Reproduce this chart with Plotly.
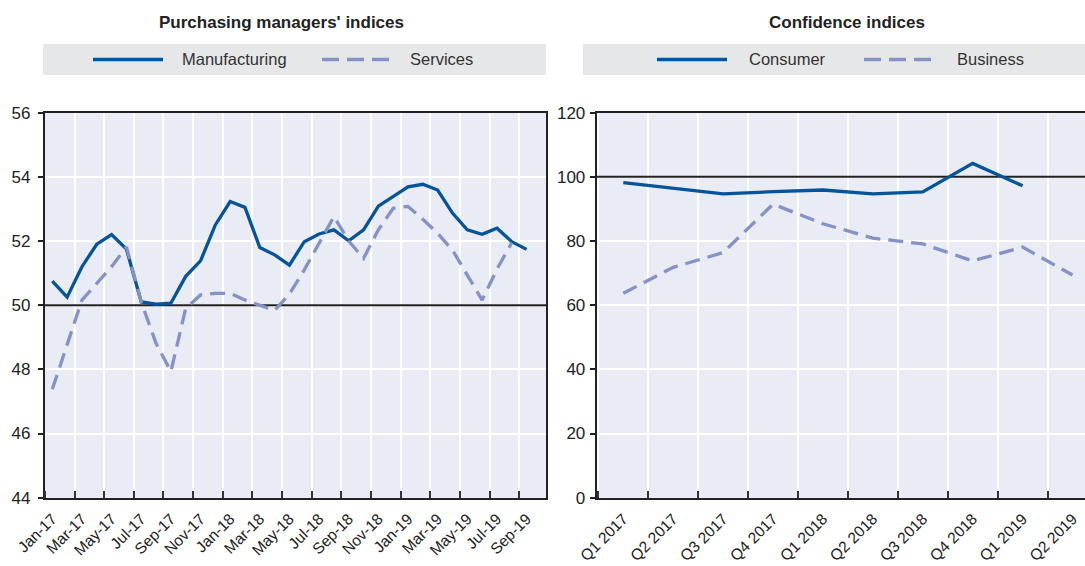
import plotly.graph_objects as go

# ---------------- data ----------------
months = ["Jan-17", "Feb-17", "Mar-17", "Apr-17", "May-17", "Jun-17", "Jul-17", "Aug-17",
          "Sep-17", "Oct-17", "Nov-17", "Dec-17", "Jan-18", "Feb-18", "Mar-18", "Apr-18",
          "May-18", "Jun-18", "Jul-18", "Aug-18", "Sep-18", "Oct-18", "Nov-18", "Dec-18",
          "Jan-19", "Feb-19", "Mar-19", "Apr-19", "May-19", "Jun-19", "Jul-19", "Aug-19",
          "Sep-19"]
manufacturing = [50.75, 50.25, 51.2, 51.9, 52.2, 51.75, 50.1, 50.03, 50.06, 50.9, 51.38,
                 52.5, 53.23, 53.05, 51.8, 51.57, 51.25, 51.98, 52.22, 52.35, 52.01, 52.35,
                 53.09, 53.38, 53.69, 53.77, 53.59, 52.87, 52.35, 52.21, 52.4, 51.98, 51.74]
services = [47.38, 48.77, 50.16, 50.68, 51.2, 51.82, 50.1, 48.81, 47.93, 49.9, 50.32,
            50.37, 50.37, 50.16, 50.0, 49.84, 50.35, 51.1, 51.93, 52.76, 52.0, 51.46,
            52.35, 53.02, 53.08, 52.68, 52.24, 51.72, 50.94, 50.16, 51.12, 51.95, None]

quarters = ["Q1 2017", "Q2 2017", "Q3 2017", "Q4 2017", "Q1 2018", "Q2 2018",
            "Q3 2018", "Q4 2018", "Q1 2019", "Q2 2019"]
consumer = [98.2, 96.45, 94.7, 95.4, 95.9, 94.7, 95.3, 104.2, 97.2, None]
business = [63.7, 71.8, 76.4, 91.5, 85.4, 80.9, 79.1, 73.8, 78.1, 69.4]

# ---------------- style ----------------
W, H = 1085, 566
BLUE = "#03549A"
LIGHT = "#8592C8"
BG = "#E9EBF5"
LEGBG = "#E6E7E8"
AXC = "#222222"
FONT = "Liberation Sans, Arial, sans-serif"

X1_RANGE = [-0.5, 33.31]
X2_RANGE = [-0.533, 9.25]


def px(x):
    return x / W


def py(y):
    return 1 - y / H


ydom = [py(497.7), py(112.7)]

fig = go.Figure()
fig.add_trace(go.Scatter(x=list(range(len(months))), y=manufacturing, mode="lines",
                         line=dict(color=BLUE, width=3.3), xaxis="x", yaxis="y",
                         name="Manufacturing", showlegend=False))
fig.add_trace(go.Scatter(x=list(range(len(months))), y=services, mode="lines",
                         line=dict(color=LIGHT, width=3.3, dash="15px,8px"),
                         xaxis="x", yaxis="y", name="Services", showlegend=False))
fig.add_trace(go.Scatter(x=list(range(len(quarters))), y=consumer, mode="lines",
                         line=dict(color=BLUE, width=3.3), xaxis="x2", yaxis="y2",
                         name="Consumer", showlegend=False))
fig.add_trace(go.Scatter(x=list(range(len(quarters))), y=business, mode="lines",
                         line=dict(color=LIGHT, width=3.3, dash="15px,8px"),
                         xaxis="x2", yaxis="y2", name="Business", showlegend=False))

common_x = dict(showline=True, linecolor=AXC, linewidth=2, mirror=True, ticks="",
                showgrid=False, zeroline=False, tickangle=-45, automargin=False,
                ticklabelstandoff=4,
                tickfont=dict(family=FONT, size=15.5, color="#222"))
common_y = dict(showline=True, linecolor=AXC, linewidth=2, ticks="outside", ticklen=5,
                tickcolor=AXC, tickwidth=1.5, showgrid=True, gridcolor="white",
                gridwidth=1.5, zeroline=False, automargin=False,
                tickfont=dict(family=FONT, size=17, color="#222"))

fig.update_layout(
    width=W, height=H, template="none",
    margin=dict(l=0, r=0, t=0, b=0, autoexpand=False),
    paper_bgcolor="white", plot_bgcolor=BG,
    font=dict(family=FONT, color="#222"),
    showlegend=False,
    xaxis=dict(domain=[px(44.9), px(546)], range=X1_RANGE, anchor="y",
               tickmode="array", tickvals=list(range(0, len(months), 2)),
               ticktext=months[::2],
               minor=dict(tickmode="linear", tick0=1.5, dtick=2, ticks="inside",
                          ticklen=7, tickcolor="#333", tickwidth=1.5,
                          showgrid=True, gridcolor="white", gridwidth=1.5),
               **common_x),
    yaxis=dict(domain=ydom, range=[44, 56], tick0=44, dtick=2, anchor="x",
               mirror=True, ticklabelstandoff=4, **common_y),
    xaxis2=dict(domain=[px(596.7), 1.0], range=X2_RANGE, anchor="y2",
                tickmode="array", tickvals=list(range(len(quarters))),
                ticktext=quarters,
                minor=dict(tickmode="linear", tick0=0.5, dtick=1, ticks="inside",
                           ticklen=7, tickcolor="#333", tickwidth=1.5,
                           showgrid=True, gridcolor="white", gridwidth=1.5),
                **common_x),
    yaxis2=dict(domain=ydom, range=[0, 120], tick0=0, dtick=20, anchor="x2",
                mirror=False, ticklabelstandoff=1, **common_y),
)

shapes = [
    dict(type="line", xref="x", yref="y", x0=X1_RANGE[0], x1=X1_RANGE[1], y0=50, y1=50,
         layer="between", line=dict(color=AXC, width=2)),
    dict(type="line", xref="x2", yref="y2", x0=X2_RANGE[0], x1=X2_RANGE[1], y0=100,
         y1=100, layer="between", line=dict(color=AXC, width=2)),
    # legend panels
    dict(type="rect", xref="paper", yref="paper", x0=px(43), x1=px(546), y0=py(75),
         y1=py(44), fillcolor=LEGBG, line=dict(width=0), layer="below"),
    dict(type="rect", xref="paper", yref="paper", x0=px(583), x1=1.0, y0=py(75),
         y1=py(44), fillcolor=LEGBG, line=dict(width=0), layer="below"),
    # legend keys
    dict(type="line", xref="paper", yref="paper", x0=px(93), x1=px(163), y0=py(59.5),
         y1=py(59.5), line=dict(color=BLUE, width=3.3)),
    dict(type="line", xref="paper", yref="paper", x0=px(322), x1=px(389), y0=py(59.5),
         y1=py(59.5), line=dict(color=LIGHT, width=3.3, dash="17px,8px")),
    dict(type="line", xref="paper", yref="paper", x0=px(657), x1=px(727), y0=py(59.5),
         y1=py(59.5), line=dict(color=BLUE, width=3.3)),
    dict(type="line", xref="paper", yref="paper", x0=px(864), x1=px(931), y0=py(59.5),
         y1=py(59.5), line=dict(color=LIGHT, width=3.3, dash="17px,8px")),
]
fig.update_layout(shapes=shapes)

ann = []
ann.append(dict(text="<b>Purchasing managers' indices</b>", x=px(281), y=py(22),
                xref="paper", yref="paper", xanchor="center", yanchor="middle",
                showarrow=False, font=dict(family=FONT, size=17, color="#222")))
ann.append(dict(text="<b>Confidence indices</b>", x=px(847), y=py(22),
                xref="paper", yref="paper", xanchor="center", yanchor="middle",
                showarrow=False, font=dict(family=FONT, size=17, color="#222")))
for label, xpos in [("Manufacturing", 180), ("Services", 408), ("Consumer", 747),
                    ("Business", 955)]:
    ann.append(dict(text=label, x=px(xpos), y=py(59.5), xref="paper", yref="paper",
                    xanchor="left", yanchor="middle", showarrow=False,
                    font=dict(family=FONT, size=16.5, color="#333")))
fig.update_layout(annotations=ann)

fig.write_html("out.html",
               config={"displayModeBar": False},
               post_script="document.body.style.margin='0';"
                           "document.body.style.overflow='hidden';")
